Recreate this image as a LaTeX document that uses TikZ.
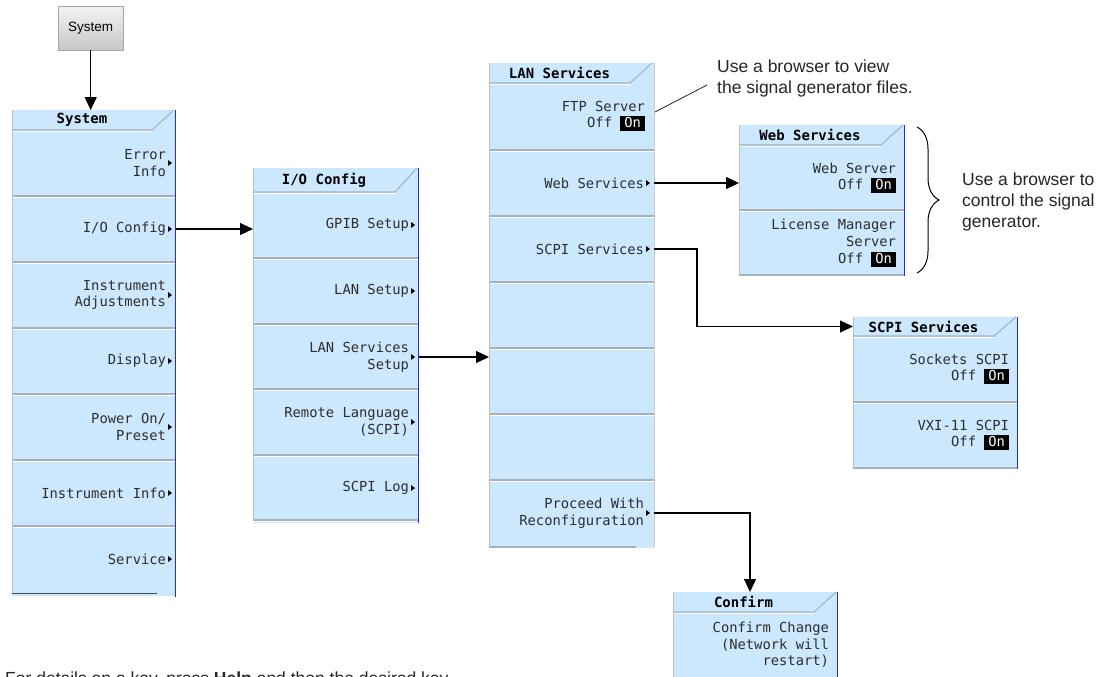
\documentclass[tikz,border=0pt]{standalone}
\usepackage{fontspec}
\setmainfont{Liberation Sans}
\newfontfamily\lcd{DejaVu Sans Mono}
\usetikzlibrary{arrows.meta,decorations.pathreplacing,calc}
\definecolor{keyblue}{RGB}{204,232,255}
\definecolor{sepgray}{RGB}{165,178,190}
\definecolor{edgeblue}{RGB}{40,40,235}
\definecolor{lcdtext}{RGB}{45,45,45}
\newcommand\OnBox{{\setlength{\fboxsep}{0pt}\colorbox{black}{\rule[-3.5pt]{0pt}{15pt}\kern4pt\textcolor{white}{On}\kern4pt}}}
\tikzset{
  x=1pt, y=-1pt,
  menubg/.style={fill=keyblue, draw=none, anchor=north west, inner sep=0, outer sep=0},
  headbox/.style={anchor=north west, inner sep=0, outer sep=0,
    font=\lcd\bfseries\fontsize{14}{16}\selectfont, text=black},
  keybox/.style={anchor=north west, inner sep=0, outer sep=0, minimum height=66},
  keylbl/.style={anchor=east, align=right, inner sep=0, outer sep=0,
    font=\lcd\fontsize{13.8}{16.6}\selectfont, text=lcdtext},
  sepline/.style={draw=sepgray, line width=1.1},
  hiline/.style={draw=white, line width=0.9},
  blueedge/.style={draw=edgeblue, line width=1.4},
  arr/.style={draw=black, line width=1.1, -{Triangle[length=13pt,width=12pt]}},
  note/.style={align=left, inner sep=0, font=\fontsize{17.5}{21}\selectfont, text=black!85},
}
% menu: name, x, top, width, height, header height, title
\newcommand\mkmenu[7]{%
  \node[menubg, minimum width=#4, minimum height=#5] (#1) at (#2,#3) {};
  \node[headbox, minimum width=#4-24, minimum height=#6] (#1-h) at (#2,#3) {#7};
  \draw[sepline] (#1-h.south west) -- (#1-h.south east) -- ($(#1.north east)+(-2,0)$);
  \draw[hiline] ($(#1-h.south west)+(0,1.2)$) -- ($(#1-h.south east)+(0,1.2)$);
}
% key with submenu marker: name, x, top, width, text
\newcommand\subkey[5]{%
  \node[keybox, minimum width=#4] (#1) at (#2,#3) {};
  \node[keylbl] (#1-t) at ($(#1.east)+(-10,0)$) {#5};
  \fill[black] ($(#1.east)+(-8,-3)$) -- ($(#1.east)+(-4,0)$) -- ($(#1.east)+(-8,3)$) -- cycle;
}
% plain / toggle key: name, x, top, width, text
\newcommand\plainkey[5]{%
  \node[keybox, minimum width=#4] (#1) at (#2,#3) {};
  \node[keylbl] (#1-t) at ($(#1.east)+(-9,0)$) {#5};
}
\newcommand\seps[3]{% x1, x2, list of y
  \foreach \yy in {#3} {
    \draw[sepline] (#1,\yy) -- (#2,\yy);
    \draw[hiline] (#1,\yy+1.2) -- (#2,\yy+1.2);
  }%
}
\begin{document}
\begin{tikzpicture}
\clip (0,0) rectangle (1108,677);
\fill[white] (0,0) rectangle (1108,677);

% System hard key
\node[anchor=north west, minimum width=65, minimum height=44, inner sep=0,
  top color=white!95!black, bottom color=black!22, draw=black!35,
  font=\fontsize{13.5}{15}\selectfont] (btn) at (58,6) {System};

% ---------- System menu ----------
\mkmenu{sys}{12}{110}{164}{486}{20}{System}
\subkey{syserr}{12}{130}{164}{Error\\Info}
\subkey{sysio}{12}{196}{164}{I/O Config}
\subkey{sysadj}{12}{262}{164}{Instrument\\Adjustments}
\subkey{sysdisp}{12}{328}{164}{Display}
\subkey{syspow}{12}{394}{164}{Power On/\\Preset}
\subkey{sysinfo}{12}{460}{164}{Instrument Info}
\subkey{syssvc}{12}{526}{164}{Service}
\seps{12}{176}{196,262,328,394,460,526}
\draw[draw=black!70, line width=1.3] (12,593.5) -- (157,593.5);
\draw[draw=black!25, line width=0.8] (12,110) -- (12,593);
\draw[blueedge] (175.3,110) -- (175.3,597);

% ---------- I/O Config menu ----------
\mkmenu{io}{253}{168}{166}{355}{24}{I/O Config}
\subkey{iogpib}{253}{192}{166}{GPIB Setup}
\subkey{iolan}{253}{258}{166}{LAN Setup}
\subkey{iosvc}{253}{324}{166}{LAN Services\\Setup}
\subkey{iorem}{253}{389}{166}{Remote Language\\(SCPI)}
\subkey{iolog}{253}{455}{166}{SCPI Log}
\seps{253}{419}{258,324,389,455,520}
\draw[draw=black!25, line width=0.8] (253,168) -- (253,520);
\draw[blueedge] (418.3,168) -- (418.3,523);

% ---------- LAN Services menu ----------
\mkmenu{lan}{489}{63}{165}{485}{20}{LAN Services}
\plainkey{lanftp}{489}{83}{165}{FTP Server\\Off \OnBox}
\subkey{lanweb}{489}{150}{165}{Web Services}
\subkey{lanscpi}{489}{216}{165}{SCPI Services}
\plainkey{lanb1}{489}{282}{165}{}
\plainkey{lanb2}{489}{348}{165}{}
\plainkey{lanb3}{489}{414}{165}{}
\subkey{lanproc}{489}{480}{165}{Proceed With\\Reconfiguration}
\seps{489}{654}{150,216,282,348,414,480}
\draw[sepline] (489,547) -- (636,547);
\draw[draw=black!25, line width=0.8] (489,63) -- (489,547);
\draw[draw=black!20, line width=0.8] (654,63) -- (654,547);

% ---------- Web Services menu ----------
\mkmenu{web}{739}{125}{166}{151}{20}{Web Services}
\plainkey{webweb}{739}{145}{166}{Web Server\\Off \OnBox}
\plainkey{weblic}{739}{210}{166}{License Manager\\Server\\Off \OnBox}
\seps{739}{905}{210,275}
\draw[draw=black!25, line width=0.8] (739,125) -- (739,275);
\draw[blueedge] (904.3,125) -- (904.3,276);

% ---------- SCPI Services menu ----------
\mkmenu{scpi}{853}{317}{165}{152}{19}{SCPI Services}
\plainkey{scpisock}{853}{336}{165}{Sockets SCPI\\Off \OnBox}
\plainkey{scpivxi}{853}{402}{165}{VXI-11 SCPI\\Off \OnBox}
\seps{853}{1018}{402,468}
\draw[draw=black!25, line width=0.8] (853,317) -- (853,468);
\draw[blueedge] (1017.3,317) -- (1017.3,469);

% ---------- Confirm menu ----------
\mkmenu{conf}{673}{592}{165}{90}{20}{Confirm}
\plainkey{confchg}{673}{612}{165}{Confirm Change\\(Network will\\restart)}
\draw[draw=black!25, line width=0.8] (673,592) -- (673,677);
\draw[blueedge] (837.3,592) -- (837.3,677);

% ---------- connectors ----------
\draw[arr] (btn.south) -- (btn.south |- sys.north);
\draw[arr] (sysio.east) -- (sysio.east -| io.west);
\draw[arr] (iosvc.east) -- (iosvc.east -| lan.west);
\draw[arr] (lanweb.east) -- (lanweb.east -| web.west);
\draw[arr] (lanscpi.east) -- ++(43,0) |- (scpi-h.west);
\draw[arr] (lanproc.east) -| ($(conf.north west)+(77,0)$);

% ---------- annotations ----------
\node[note, anchor=west] (n1) at (717,78.5) {Use a browser to view\\the signal generator files.};
\coordinate (n1c) at (707,85);
\draw[black!85, line width=0.8] ($(lanftp.east)+(1,-4)$) -- (n1c);

\draw[black, line width=1, decorate, decoration={brace, amplitude=22pt, aspect=0.5}]
  (917,127) -- (917,273);
\node[note, anchor=west] (n2) at (962,202) {Use a browser to\\control the signal\\generator.};

\node[note, anchor=base west] (n3) at (5,684) {For details on a key, press \textbf{Help} and then the desired key.};
\end{tikzpicture}
\end{document}
